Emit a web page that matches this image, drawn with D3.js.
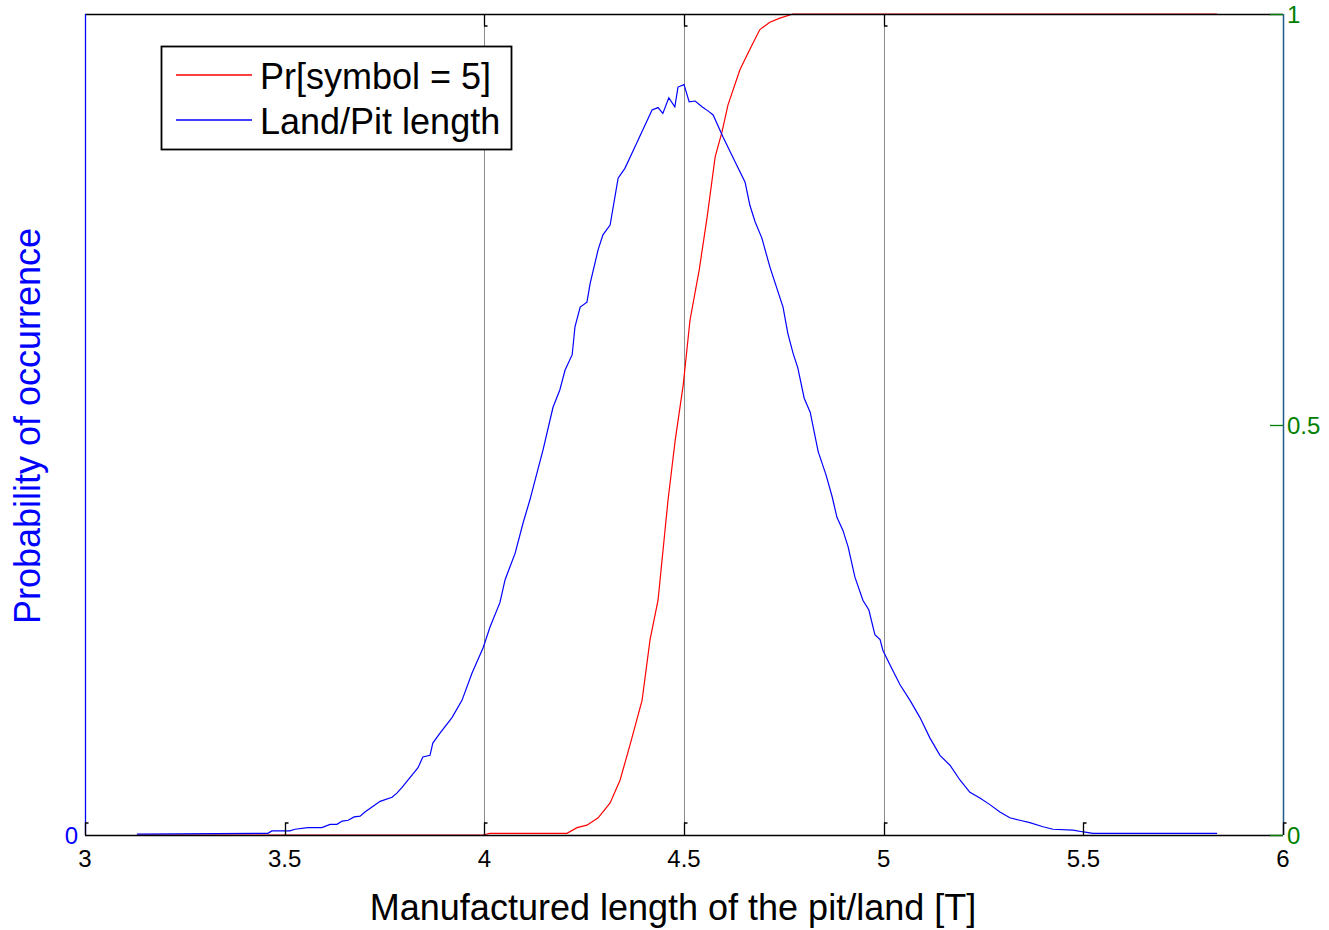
<!DOCTYPE html>
<html>
<head>
<meta charset="utf-8">
<script src="https://cdn.jsdelivr.net/npm/d3@7"></script>
<style>
  body { margin: 0; background: #fff; }
  svg { font-family: "Liberation Sans", Arial, sans-serif; }
</style>
</head>
<body>
<svg width="1329" height="930"></svg>
<script>
// length values (T) and probability of occurrence (fraction of left axis height)
var landX = [3.130, 3.458, 3.468, 3.513, 3.526, 3.558, 3.593, 3.614, 3.631, 3.644, 3.659, 3.674, 3.689, 3.701,
  3.739, 3.769, 3.781, 3.794, 3.834, 3.846, 3.864, 3.871, 3.889, 3.919, 3.944, 3.969, 3.997, 4.014, 4.039,
  4.052, 4.077, 4.097, 4.114, 4.134, 4.147, 4.172, 4.189, 4.202, 4.220, 4.227, 4.240, 4.257, 4.265, 4.285,
  4.297, 4.315, 4.335, 4.352, 4.377, 4.397, 4.420, 4.435, 4.447, 4.462, 4.477, 4.485, 4.500, 4.513, 4.528,
  4.545, 4.560, 4.573, 4.598, 4.623, 4.653, 4.665, 4.678, 4.695, 4.715, 4.748, 4.760, 4.773, 4.785, 4.801,
  4.816, 4.836, 4.856, 4.871, 4.883, 4.898, 4.911, 4.928, 4.948, 4.963, 4.978, 4.991, 4.998, 5.016, 5.041,
  5.066, 5.091, 5.116, 5.141, 5.166, 5.191, 5.216, 5.241, 5.266, 5.291, 5.316, 5.341, 5.366, 5.399, 5.424,
  5.474, 5.497, 5.524, 5.835];
var landP = [0.001, 0.002, 0.005, 0.005, 0.007, 0.009, 0.009, 0.013, 0.013, 0.017, 0.018, 0.022, 0.023, 0.028,
  0.041, 0.046, 0.051, 0.058, 0.082, 0.095, 0.097, 0.112, 0.124, 0.143, 0.164, 0.197, 0.228, 0.253, 0.283,
  0.311, 0.343, 0.380, 0.408, 0.445, 0.469, 0.521, 0.542, 0.566, 0.585, 0.619, 0.643, 0.649, 0.672, 0.713,
  0.731, 0.743, 0.800, 0.812, 0.838, 0.859, 0.883, 0.886, 0.879, 0.898, 0.887, 0.911, 0.914, 0.893, 0.894,
  0.887, 0.882, 0.877, 0.850, 0.825, 0.795, 0.767, 0.747, 0.727, 0.692, 0.643, 0.611, 0.587, 0.569, 0.532,
  0.515, 0.467, 0.438, 0.412, 0.387, 0.371, 0.351, 0.314, 0.286, 0.274, 0.244, 0.238, 0.225, 0.207, 0.183,
  0.164, 0.143, 0.118, 0.097, 0.085, 0.067, 0.052, 0.045, 0.037, 0.028, 0.021, 0.018, 0.015, 0.010, 0.007,
  0.006, 0.004, 0.002, 0.002];

// Pr[symbol = 5] against length
var symX = [3.130, 3.997, 4.014, 4.207, 4.232, 4.257, 4.285, 4.315, 4.340, 4.365, 4.395, 4.415, 4.435, 4.460,
  4.478, 4.498, 4.515, 4.538, 4.558, 4.578, 4.595, 4.610, 4.640, 4.670, 4.690, 4.715, 4.740, 4.773, 5.835];
var symP = [0, 0, 0.002, 0.002, 0.009, 0.012, 0.021, 0.039, 0.067, 0.110, 0.164, 0.238, 0.286, 0.408,
  0.481, 0.548, 0.627, 0.688, 0.753, 0.826, 0.856, 0.889, 0.932, 0.962, 0.981, 0.990, 0.995, 1.0, 1.0];

var xTicks = [3, 3.5, 4, 4.5, 5, 5.5, 6];
var topTicks = [4, 4.5, 5];
var gridX = [4, 4.5, 5];
var rightTicks = [0, 0.5, 1];
var leftTicks = [0];
var legendLabels = ["Pr[symbol = 5]", "Land/Pit length"];
var legendColors = ["#ff0000", "#0000ff"];

var svg = d3.select("svg");
var pLeft = 85, pRight = 1283, pTop = 14, pBottom = 835;

var x = d3.scaleLinear().domain([3, 6]).range([pLeft, pRight]);
var yL = d3.scaleLinear().domain([0, 1]).range([pBottom, pTop]);
var yR = d3.scaleLinear().domain([0, 1]).range([pBottom, pTop]);

// grey vertical lines
svg.append("g").selectAll("line").data(gridX).enter().append("line")
    .attr("x1", d => Math.round(x(d)) + 0.5).attr("x2", d => Math.round(x(d)) + 0.5)
    .attr("y1", pTop).attr("y2", pBottom)
    .attr("stroke", "#8c8c8c").attr("stroke-width", 1);

var line = d3.line().x(d => x(d[0]));

svg.append("path")
    .datum(d3.zip(symX, symP))
    .attr("d", line.y(d => yR(d[1])))
    .attr("fill", "none").attr("stroke", "#ff0000").attr("stroke-width", 1.2);

svg.append("path")
    .datum(d3.zip(landX, landP))
    .attr("d", line.y(d => yL(d[1])))
    .attr("fill", "none").attr("stroke", "#0000ff").attr("stroke-width", 1.2);

// frame
svg.append("line").attr("x1", pLeft).attr("x2", pRight).attr("y1", pBottom + 0.5).attr("y2", pBottom + 0.5)
    .attr("stroke", "#000").attr("stroke-width", 1.3);
svg.append("line").attr("x1", pLeft).attr("x2", pRight).attr("y1", pTop + 0.5).attr("y2", pTop + 0.5)
    .attr("stroke", "#000").attr("stroke-width", 1.3);
svg.append("line").attr("x1", pLeft + 0.5).attr("x2", pLeft + 0.5).attr("y1", pTop).attr("y2", pBottom)
    .attr("stroke", "#0000ff").attr("stroke-width", 1.3);
svg.append("line").attr("x1", pRight + 0.5).attr("x2", pRight + 0.5).attr("y1", pTop).attr("y2", pBottom)
    .attr("stroke", "#1f5a8a").attr("stroke-width", 1.5);

// bottom x ticks, MATLAB style little brackets
svg.append("g").selectAll("path").data(xTicks).enter().append("path")
    .attr("d", d => {
      var px = Math.round(x(d)) + 0.5;
      return "M" + px + "," + pBottom + "V" + (pBottom - 12) + "h3";
    })
    .attr("fill", "none").attr("stroke", "#000").attr("stroke-width", 1.3);

svg.append("g").selectAll("path").data(topTicks).enter().append("path")
    .attr("d", d => {
      var px = Math.round(x(d)) + 0.5;
      return "M" + px + "," + pTop + "V" + (pTop + 12) + "h3";
    })
    .attr("fill", "none").attr("stroke", "#000").attr("stroke-width", 1.3);

svg.append("g").selectAll("text").data(xTicks).enter().append("text")
    .attr("x", d => x(d)).attr("y", 867)
    .attr("text-anchor", "middle").attr("font-size", 24).attr("fill", "#000")
    .text(d => d);

// right axis (green)
svg.append("g").selectAll("line").data(rightTicks).enter().append("line")
    .attr("x1", pRight - 13).attr("x2", pRight)
    .attr("y1", d => Math.round(yR(d)) + 0.5).attr("y2", d => Math.round(yR(d)) + 0.5)
    .attr("stroke", "#008000").attr("stroke-width", 1.3);
svg.append("g").selectAll("text").data(rightTicks).enter().append("text")
    .attr("x", pRight + 4).attr("y", d => yR(d) + 9)
    .attr("font-size", 24).attr("fill", "#008000")
    .text(d => d);

// left axis (blue)
svg.append("g").selectAll("text").data(leftTicks).enter().append("text")
    .attr("x", pLeft - 7).attr("y", d => yL(d) + 9)
    .attr("text-anchor", "end").attr("font-size", 24).attr("fill", "#0000ff")
    .text(d => d);

// titles
svg.append("text")
    .attr("x", 673).attr("y", 920)
    .attr("text-anchor", "middle").attr("font-size", 36).attr("fill", "#000")
    .text("Manufactured length of the pit/land [T]");

svg.append("text")
    .attr("transform", "translate(40,426) rotate(-90)")
    .attr("text-anchor", "middle").attr("font-size", 36).attr("fill", "#0000ff")
    .text("Probability of occurrence");

// legend
var lg = svg.append("g");
lg.append("rect")
    .attr("x", 161.5).attr("y", 46.5).attr("width", 350).attr("height", 103)
    .attr("fill", "#fff").attr("stroke", "#000").attr("stroke-width", 1.8);
legendLabels.forEach((lab, i) => {
  var ly = 75 + i * 45;
  lg.append("line").attr("x1", 176).attr("x2", 252).attr("y1", ly).attr("y2", ly)
      .style("stroke", legendColors[i]).style("stroke-width", 1.4);
  lg.append("text").attr("x", 260).attr("y", ly + 14)
      .attr("font-size", 36).attr("fill", "#000").text(lab);
});
</script>
</body>
</html>
